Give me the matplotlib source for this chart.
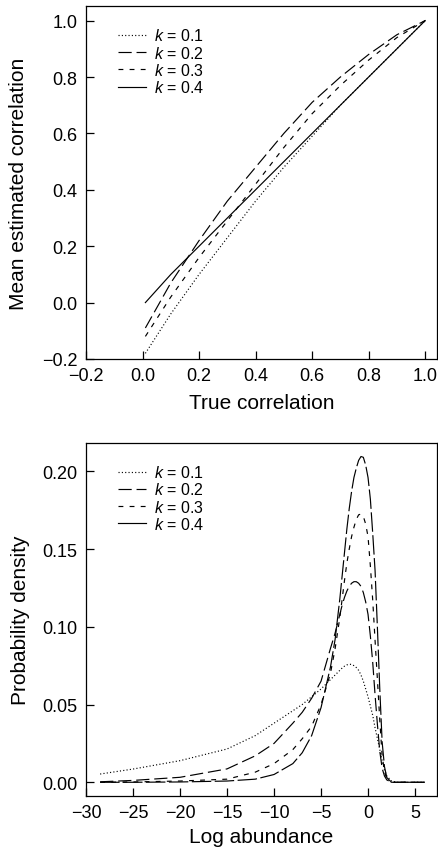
import numpy as np
import matplotlib
matplotlib.use("Agg")
import matplotlib.pyplot as plt
from matplotlib.ticker import FuncFormatter

plt.rcParams['font.family'] = ['Liberation Sans', 'DejaVu Sans']
plt.rcParams['mathtext.fontset'] = 'custom'
plt.rcParams['mathtext.rm'] = 'Liberation Sans'
plt.rcParams['mathtext.it'] = 'Liberation Sans:italic'
plt.rcParams['lines.scale_dashes'] = False

# ---- data: top panel (true vs mean estimated correlation) ----
true_r = [0.01, 0.1, 0.2, 0.3, 0.4, 0.5, 0.6, 0.7, 0.8, 0.9, 1.0]
est_k01 = [-0.18, -0.04, 0.10, 0.23, 0.36, 0.48, 0.59, 0.70, 0.80, 0.90, 1.0]
est_k02 = [-0.09, 0.07, 0.22, 0.36, 0.48, 0.60, 0.71, 0.80, 0.88, 0.95, 1.0]
est_k03 = [-0.12, 0.02, 0.16, 0.29, 0.42, 0.55, 0.67, 0.77, 0.86, 0.94, 1.0]
est_k04 = [0.00, 0.10, 0.20, 0.30, 0.40, 0.50, 0.60, 0.70, 0.80, 0.90, 1.0]

# ---- data: bottom panel (density of log abundance) ----
log_ab = [-28.5, -25, -20, -15, -12, -10, -8, -7, -6, -5, -4, -3.5,
          -3, -2.75, -2.5, -2.25, -2, -1.75, -1.5, -1.25, -1, -0.75, -0.5,
          -0.25, 0, 0.25, 0.5, 0.75, 1, 1.25, 1.5, 1.75, 2,
          2.5, 3, 4, 6]
dens_k01 = [0.0053, 0.0085, 0.0139, 0.0214, 0.030, 0.038, 0.046, 0.050, 0.055,
            0.060, 0.066, 0.069,
            0.072, 0.0735, 0.0747, 0.0755, 0.0759, 0.0758, 0.075, 0.0738,
            0.072, 0.069, 0.065, 0.060, 0.055, 0.049, 0.043, 0.035, 0.028,
            0.021, 0.014, 0.008, 0.004,
            0.0008, 0.0, 0.0, 0.0]
dens_k02 = [0.0003, 0.0012, 0.0032, 0.0086, 0.017, 0.025, 0.038, 0.045, 0.054,
            0.065, 0.086, 0.096,
            0.108, 0.114, 0.119, 0.123, 0.126, 0.128, 0.129, 0.129,
            0.128, 0.126, 0.122, 0.116, 0.108, 0.094, 0.077, 0.056, 0.037,
            0.020, 0.009, 0.004, 0.0015,
            0.0, 0.0, 0.0, 0.0]
dens_k03 = [0.0, 0.0002, 0.0008, 0.002, 0.0065, 0.012, 0.021, 0.028, 0.036,
            0.050, 0.070, 0.086,
            0.106, 0.118, 0.130, 0.141, 0.150, 0.158, 0.164, 0.169,
            0.172, 0.1725, 0.171, 0.166, 0.158, 0.139, 0.117, 0.091, 0.066,
            0.040, 0.017, 0.007, 0.002,
            0.0, 0.0, 0.0, 0.0]
dens_k04 = [0.0, 0.0, 0.0002, 0.0008, 0.002, 0.005, 0.012, 0.019, 0.030,
            0.048, 0.074, 0.092,
            0.118, 0.133, 0.148, 0.163, 0.176, 0.187, 0.196, 0.202,
            0.207, 0.2095, 0.209, 0.204, 0.196, 0.182, 0.160, 0.136, 0.099,
            0.060, 0.026, 0.010, 0.003,
            0.0, 0.0, 0.0, 0.0]

labels = ['$k$ = 0.1', '$k$ = 0.2', '$k$ = 0.3', '$k$ = 0.4']
styles = [(0, (0.8, 1.6)), (0, (9.5, 3.5)), (0, (3.5, 4.5)), '-']


def fmt(decimals):
    return FuncFormatter(lambda v, p: f'{v:.{decimals}f}'.replace('-', '\u2212'))


fig = plt.figure(figsize=(4.39, 8.53), dpi=100)
ax1 = fig.add_axes([0.196, 0.578, 0.7995, 0.4135])
ax2 = fig.add_axes([0.196, 0.0657, 0.7995, 0.4138])

lw = 0.85
for ys, ls, lab in zip([est_k01, est_k02, est_k03, est_k04], styles, labels):
    ax1.plot(true_r, ys, color='black', linestyle=ls, linewidth=lw, label=lab)

# in the bottom panel the k=0.4 curve is drawn broken into long dashes
styles2 = styles[:3] + [(0, (14, 2.5))]
for ys, ls in zip([dens_k01, dens_k02, dens_k03, dens_k04], styles2):
    ax2.plot(log_ab, ys, color='black', linestyle=ls, linewidth=lw)

ax1.set_xlim(-0.2, 1.042)
ax1.set_ylim(-0.2, 1.051)
ax1.set_xticks(np.arange(-0.2, 1.01, 0.2))
ax1.set_yticks(np.arange(-0.2, 1.01, 0.2))
ax1.xaxis.set_major_formatter(fmt(1))
ax1.yaxis.set_major_formatter(fmt(1))
ax1.set_xlabel('True correlation', fontsize=15, labelpad=6)
ax1.set_ylabel('Mean estimated correlation', fontsize=15, labelpad=10)

ax2.set_xlim(-30, 7.34)
ax2.set_ylim(-0.0088, 0.2182)
ax2.set_xticks(np.arange(-30, 6, 5))
ax2.set_yticks(np.arange(0, 0.201, 0.05))
ax2.xaxis.set_major_formatter(fmt(0))
ax2.yaxis.set_major_formatter(fmt(2))
ax2.set_xlabel('Log abundance', fontsize=15, labelpad=4)
ax2.set_ylabel('Probability density', fontsize=15, labelpad=9)

for ax in (ax1, ax2):
    ax.tick_params(direction='in', length=6, width=0.9, labelsize=13, pad=6)
    for sp in ax.spines.values():
        sp.set_linewidth(0.9)

leg_kw = dict(frameon=False, fontsize=11.5, handlelength=1.7, handletextpad=0.5,
              labelspacing=0.08, borderaxespad=0)
ax1.legend(loc='upper left', bbox_to_anchor=(0.074, 0.958), **leg_kw)
ax2.legend(handles=ax1.get_lines(), loc='upper left',
           bbox_to_anchor=(0.074, 0.958), **leg_kw)

fig.savefig('out.png', dpi=100)
